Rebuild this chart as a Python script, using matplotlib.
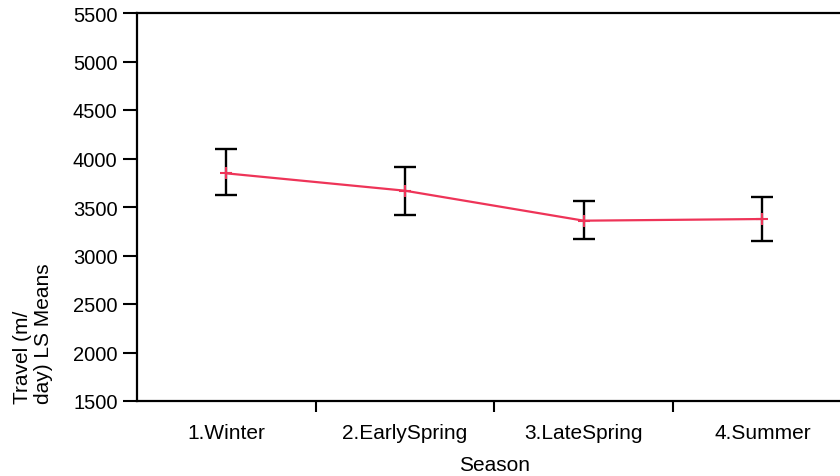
import matplotlib
matplotlib.use("Agg")
import matplotlib.pyplot as plt
import numpy as np

plt.rcParams['font.family'] = ['Liberation Sans', 'DejaVu Sans']

seasons = ["1.Winter", "2.EarlySpring", "3.LateSpring", "4.Summer"]
ls_means = [3847, 3668, 3359, 3376]
ci_lower = [3624, 3421, 3170, 3153]
ci_upper = [4098, 3915, 3565, 3606]
y_ticks = [1500, 2000, 2500, 3000, 3500, 4000, 4500, 5000, 5500]

W, H = 840, 477
fig = plt.figure(figsize=(W / 100, H / 100), dpi=100)
ax = fig.add_axes([137 / W, 75 / H, 714.7 / W, 388 / H])

x = np.arange(len(seasons))
means = np.array(ls_means)
yerr = np.vstack([means - np.array(ci_lower), np.array(ci_upper) - means])

ax.errorbar(x, means, yerr=yerr, fmt='none', ecolor='black',
            elinewidth=1.7, capsize=8, capthick=1.7, zorder=2)
ax.plot(x, means, color='#EE3458', lw=1.6, marker='+', ms=9, mew=1.5, zorder=3)

ax.set_xlim(-0.5, len(seasons) - 0.5)
ax.set_ylim(y_ticks[0], y_ticks[-1])
ax.set_yticks(y_ticks)
ax.set_yticklabels([str(v) for v in y_ticks], fontsize=14.5)

# category labels at centers, tick marks between categories
ax.set_xticks(x)
ax.set_xticklabels(seasons, fontsize=15)
ax.tick_params(axis='x', which='major', length=0, pad=16)
ax.set_xticks(np.arange(0.5, len(seasons) - 0.5, 1.0), minor=True)
ax.tick_params(axis='x', which='minor', length=8, width=1.5, direction='out')
ax.tick_params(axis='y', length=10, width=1.5, direction='out', pad=4)

for side in ['left', 'bottom', 'top']:
    ax.spines[side].set_linewidth(1.6)
ax.spines['right'].set_visible(False)

ax.set_xlabel("Season", fontsize=15, labelpad=9)
fig.text(33 / W, 73 / H, "Travel (m/\nday) LS Means", rotation=90,
         ha='center', va='bottom', multialignment='left', fontsize=15,
         linespacing=1.1)

fig.savefig("out.png", dpi=100)
